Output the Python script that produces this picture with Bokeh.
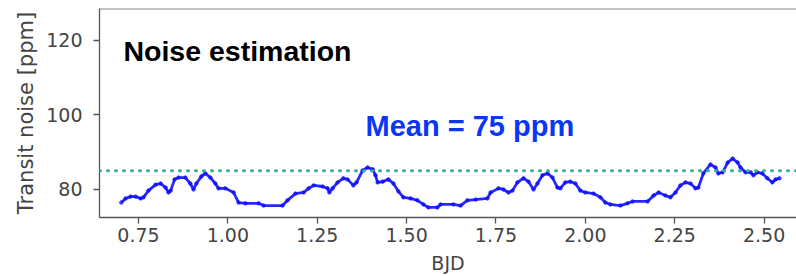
from bokeh.plotting import figure
from bokeh.models import Span, FixedTicker, PrintfTickFormatter, Label, Range1d
from bokeh.embed import file_html
from bokeh.resources import INLINE

# BJD (days) and transit noise (ppm)
bjd = [0.702, 0.714, 0.728, 0.742, 0.756, 0.764, 0.778, 0.798, 0.812, 0.826,
       0.834, 0.840, 0.851, 0.862, 0.881, 0.895, 0.904, 0.912, 0.926, 0.937,
       0.951, 0.965, 0.974, 0.993, 1.016, 1.030, 1.049, 1.086, 1.100, 1.153,
       1.167, 1.189, 1.212, 1.226, 1.240, 1.265, 1.279, 1.284, 1.293, 1.307,
       1.323, 1.335, 1.351, 1.360, 1.377, 1.391, 1.405, 1.413, 1.419, 1.433,
       1.449, 1.463, 1.477, 1.491, 1.511, 1.530, 1.547, 1.561, 1.586, 1.595,
       1.631, 1.651, 1.670, 1.693, 1.726, 1.735, 1.757, 1.771, 1.785, 1.796,
       1.810, 1.827, 1.841, 1.855, 1.866, 1.880, 1.894, 1.908, 1.922, 1.930,
       1.944, 1.958, 1.972, 1.986, 2.000, 2.023, 2.042, 2.056, 2.070, 2.098,
       2.118, 2.132, 2.174, 2.191, 2.205, 2.224, 2.238, 2.252, 2.266, 2.280,
       2.294, 2.308, 2.316, 2.330, 2.350, 2.364, 2.372, 2.384, 2.398, 2.412,
       2.426, 2.434, 2.448, 2.462, 2.470, 2.481, 2.495, 2.509, 2.523, 2.532,
       2.543]
noise = [76.5, 77.6, 78.1, 78.1, 77.6, 77.9, 79.7, 81.3, 81.6, 80.5,
         79.2, 79.7, 82.7, 83.2, 83.2, 81.6, 80.0, 81.6, 83.5, 84.3,
         83.2, 81.6, 80.3, 80.3, 79.2, 76.5, 76.3, 76.3, 75.7, 75.7,
         77.1, 78.9, 79.2, 80.3, 81.1, 80.8, 80.3, 79.2, 80.3, 81.9,
         83.0, 82.7, 81.1, 81.9, 85.1, 85.9, 85.4, 83.8, 81.9, 82.1,
         82.7, 81.6, 79.5, 77.9, 77.6, 77.1, 76.0, 75.2, 75.2, 76.0,
         76.0, 75.7, 77.1, 77.3, 77.6, 79.2, 80.3, 80.0, 79.2, 79.7,
         81.9, 83.0, 82.1, 80.0, 81.6, 83.8, 84.3, 83.2, 80.5, 80.3,
         81.9, 82.1, 81.6, 79.7, 79.2, 78.9, 77.9, 76.5, 76.0, 75.7,
         76.3, 76.8, 76.8, 78.4, 79.2, 78.4, 77.9, 79.2, 81.1, 81.9,
         81.6, 80.3, 80.5, 84.3, 86.7, 85.9, 84.3, 84.6, 87.2, 88.3,
         87.2, 85.9, 84.6, 84.6, 83.8, 84.6, 84.3, 83.0, 81.9, 82.7,
         83.0]
threshold = 85.0
x_ticks = [0.75, 1.00, 1.25, 1.50, 1.75, 2.00, 2.25, 2.50]
y_ticks = [80, 100, 120]
title_text = "Noise estimation"
mean_text = "Mean = 75 ppm"
x_label = "BJD"
y_label = "Transit noise [ppm]"

X0, X1 = 0.641, 2.5906
Y0, Y1 = 72.5, 128.46

p = figure(width=796, height=276, output_backend="svg", toolbar_location=None,
           x_range=Range1d(X0, X1), y_range=Range1d(Y0, Y1),
           min_border_left=99, min_border_right=0, min_border_top=8,
           min_border_bottom=59)
p.outline_line_color = None
p.grid.visible = False
p.background_fill_color = "white"

axis_col = "#555555"
lab_col = "#444444"
for ax in (p.xaxis[0], p.yaxis[0]):
    ax.axis_line_color = axis_col
    ax.axis_line_width = 1.3
    ax.major_tick_line_color = axis_col
    ax.major_tick_line_width = 1.3
    ax.major_tick_out = 6
    ax.major_tick_in = 0
    ax.minor_tick_line_color = None
    ax.major_label_text_font = "DejaVu Sans"
    ax.major_label_text_font_size = "19px"
    ax.major_label_text_color = lab_col
    ax.axis_label_text_font = "DejaVu Sans"
    ax.axis_label_text_font_style = "normal"
    ax.axis_label_text_color = lab_col

p.xaxis.ticker = FixedTicker(ticks=x_ticks)
p.xaxis.formatter = PrintfTickFormatter(format="%.2f")
p.yaxis.ticker = FixedTicker(ticks=y_ticks)
p.xaxis.axis_label = x_label
p.yaxis.axis_label = y_label
p.xaxis.axis_label_text_font_size = "19px"
p.yaxis.axis_label_text_font_size = "21px"
p.xaxis.major_label_standoff = 4
p.xaxis.axis_label_standoff = 7
p.yaxis.major_label_standoff = 11
p.yaxis.axis_label_standoff = 5

# top frame border
p.add_layout(Span(location=Y1, dimension="width", line_color="#888888", line_width=2))

# mean threshold dotted line
p.add_layout(Span(location=threshold, dimension="width", line_color="#36ad9c",
                  line_width=3, line_dash="1 7", line_cap="round"))

p.line(bjd, noise, line_color="#1010ff", line_width=2.8, line_alpha=0.9)
p.scatter(bjd, noise, size=3.5, color="#1010ff", alpha=0.7)

p.add_layout(Label(x=0.708, y=117.2, text=title_text, text_font="Liberation Sans",
                   text_font_style="bold", text_font_size="28.5px", text_color="black",
                   text_baseline="middle"))
p.add_layout(Label(x=1.385, y=97.1, text=mean_text, text_font="Liberation Sans",
                   text_font_style="bold", text_font_size="29px", text_color="#0a36f5",
                   text_baseline="middle"))

open("out.html", "w").write(file_html(p, INLINE))
